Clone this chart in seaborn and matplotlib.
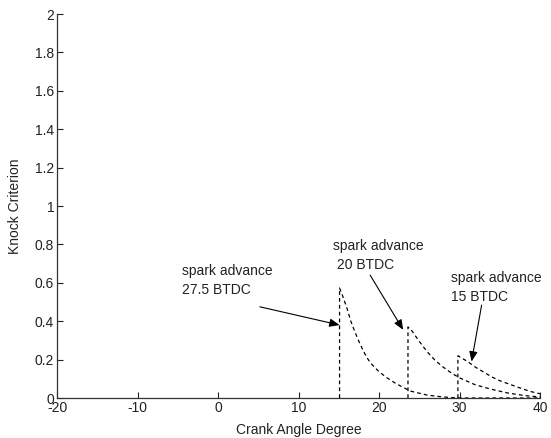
import matplotlib
matplotlib.use("Agg")
import matplotlib.pyplot as plt
import matplotlib.ticker as mticker
import seaborn as sns
import pandas as pd

# Data
x_275 = [15.1, 15.1, 15.5, 16, 16.5, 17, 17.5, 18, 18.5, 19, 20, 21, 22, 23, 24, 26, 28, 30, 40]
y_275 = [0.0, 0.573, 0.53, 0.47, 0.40, 0.345, 0.295, 0.25, 0.21, 0.18, 0.137, 0.105, 0.078, 0.055, 0.035, 0.015, 0.005, 0.0, 0.0]

x_20 = [23.6, 23.6, 24, 25, 26, 27, 28, 29, 30, 32, 34, 36, 38, 40]
y_20 = [0.0, 0.37, 0.355, 0.295, 0.24, 0.195, 0.16, 0.13, 0.105, 0.068, 0.045, 0.026, 0.013, 0.005]

x_15 = [29.8, 29.8, 30.2, 31, 32, 33, 34, 35, 36, 37, 38, 39, 40]
y_15 = [0.0, 0.22, 0.21, 0.19, 0.16, 0.135, 0.11, 0.09, 0.075, 0.06, 0.045, 0.032, 0.022]

x_ticks = [-20, -10, 0, 10, 20, 30, 40]
y_ticks = [0, 0.2, 0.4, 0.6, 0.8, 1.0, 1.2, 1.4, 1.6, 1.8, 2.0]

labels = ["spark advance\n27.5 BTDC", "spark advance\n 20 BTDC", "spark advance\n15 BTDC"]

sns.set_style("ticks")
plt.rcParams["font.family"] = ["Liberation Sans", "DejaVu Sans"]
plt.rcParams["xtick.direction"] = "in"
plt.rcParams["ytick.direction"] = "in"

fig = plt.figure(figsize=(5.51, 4.38), dpi=100)
ax = fig.add_axes([57 / 551, 1 - 398 / 438, (540 - 57) / 551, (398 - 14) / 438])

dash = (0, (3, 2.5))
for xs, ys in [(x_275, y_275), (x_20, y_20), (x_15, y_15)]:
    df = pd.DataFrame({"x": xs, "y": ys})
    sns.lineplot(data=df, x="x", y="y", ax=ax, sort=False, estimator=None,
                 color="black", linewidth=0.9, linestyle=dash)

ax.set_xlim(-20, 40)
ax.set_ylim(0, 2)
ax.set_xticks(x_ticks)
ax.set_yticks(y_ticks)
ax.yaxis.set_major_formatter(mticker.FormatStrFormatter("%g"))
ax.xaxis.set_major_formatter(mticker.FormatStrFormatter("%g"))

tc = "#222222"
fs = 10
ax.tick_params(axis="both", labelsize=fs, colors=tc, length=4, width=0.8, pad=2)
for s in ["top", "right"]:
    ax.spines[s].set_visible(False)
for s in ["left", "bottom"]:
    ax.spines[s].set_color("#333333")
    ax.spines[s].set_linewidth(0.9)

ax.set_xlabel("Crank Angle Degree", fontsize=fs, color=tc, labelpad=6)
ax.set_ylabel("Knock Criterion", fontsize=fs, color=tc, labelpad=9)

arrow_kw = dict(arrowstyle="-|>,head_length=0.6,head_width=0.25", color="black", lw=0.8,
                shrinkA=0, shrinkB=0)
# annotation 1
ax.annotate("", xy=(15.1, 0.38), xytext=(5.2, 0.475), arrowprops=arrow_kw)
ax.text(-4.5, 0.70, labels[0], fontsize=fs, color=tc, va="top", ha="left", linespacing=1.45)
# annotation 2
ax.annotate("", xy=(23.0, 0.355), xytext=(18.9, 0.64), arrowprops=arrow_kw)
ax.text(14.3, 0.83, labels[1], fontsize=fs, color=tc, va="top", ha="left", linespacing=1.45)
# annotation 3
ax.annotate("", xy=(31.5, 0.19), xytext=(32.75, 0.484), arrowprops=arrow_kw)
ax.text(29.0, 0.66, labels[2], fontsize=fs, color=tc, va="top", ha="left", linespacing=1.45)

fig.savefig("out.png", dpi=100)
